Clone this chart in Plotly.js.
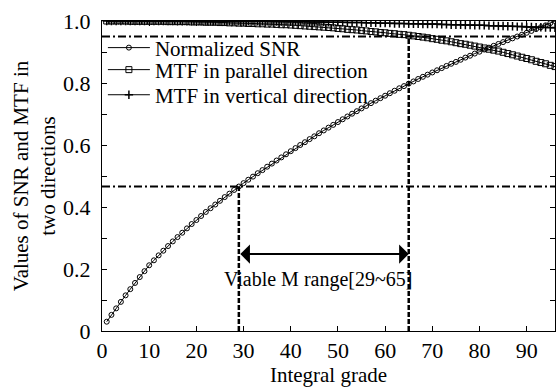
<!DOCTYPE html>
<html>
<head>
<meta charset="utf-8">
<script src="https://cdn.plot.ly/plotly-3.0.1.min.js"></script>
<style>html,body{margin:0;padding:0;background:#fff;}#chart{width:556px;height:387px;}</style>
</head>
<body>
<div id="chart"></div>
<script>
const grades = [1,2,3,4,5,6,7,8,9,10,11,12,13,14,15,16,17,18,19,20,21,22,23,24,25,26,27,28,29,30,31,32,33,34,35,36,37,38,39,40,41,42,43,44,45,46,47,48,49,50,51,52,53,54,55,56,57,58,59,60,61,62,63,64,65,66,67,68,69,70,71,72,73,74,75,76,77,78,79,80,81,82,83,84,85,86,87,88,89,90,91,92,93,94,95,96];
const snr = [0.030,0.052,0.073,0.094,0.115,0.135,0.155,0.174,0.193,0.212,
  0.228,0.244,0.259,0.274,0.289,0.303,0.317,0.331,0.345,0.358,
  0.371,0.384,0.396,0.408,0.420,0.432,0.443,0.455,0.466,0.477,
  0.488,0.498,0.509,0.519,0.530,0.540,0.550,0.560,0.570,0.580,
  0.590,0.600,0.609,0.619,0.628,0.638,0.647,0.656,0.665,0.674,
  0.683,0.692,0.701,0.709,0.718,0.726,0.735,0.743,0.751,0.759,
  0.767,0.775,0.783,0.790,0.798,0.805,0.813,0.820,0.827,0.834,
  0.841,0.848,0.855,0.862,0.868,0.875,0.882,0.888,0.895,0.901,
  0.908,0.914,0.920,0.926,0.932,0.938,0.944,0.950,0.956,0.962,
  0.968,0.974,0.980,0.986,0.993,1.000];
const mtfParallel = [1.000,1.000,1.000,1.000,1.000,0.999,0.999,0.999,0.999,0.999,
  0.999,0.999,0.999,0.998,0.998,0.998,0.998,0.998,0.997,0.997,
  0.997,0.996,0.996,0.996,0.995,0.995,0.994,0.994,0.993,0.993,
  0.992,0.992,0.991,0.991,0.990,0.990,0.989,0.988,0.988,0.987,
  0.986,0.985,0.984,0.983,0.982,0.981,0.980,0.979,0.978,0.976,
  0.975,0.973,0.972,0.971,0.969,0.968,0.966,0.965,0.963,0.962,
  0.960,0.959,0.957,0.956,0.954,0.952,0.950,0.948,0.946,0.943,
  0.941,0.938,0.936,0.933,0.930,0.927,0.925,0.922,0.919,0.916,
  0.913,0.909,0.906,0.903,0.899,0.895,0.891,0.887,0.883,0.879,
  0.875,0.870,0.866,0.862,0.857,0.853];
const mtfVertical = [1.000,1.000,1.000,1.000,1.000,1.000,1.000,1.000,1.000,1.000,
  1.000,1.000,1.000,1.000,1.000,0.999,0.999,0.999,0.999,0.999,
  0.999,0.999,0.999,0.999,0.999,0.999,0.999,0.999,0.999,0.999,
  0.999,0.999,0.999,0.999,0.999,0.998,0.998,0.998,0.998,0.998,
  0.998,0.998,0.998,0.997,0.997,0.997,0.997,0.996,0.996,0.996,
  0.996,0.995,0.995,0.995,0.995,0.994,0.994,0.994,0.993,0.993,
  0.993,0.992,0.992,0.992,0.991,0.991,0.991,0.990,0.990,0.990,
  0.990,0.989,0.989,0.988,0.988,0.988,0.987,0.987,0.986,0.986,
  0.986,0.985,0.985,0.984,0.984,0.983,0.983,0.982,0.982,0.981,
  0.981,0.980,0.980,0.979,0.979,0.978];
const seriesNames = ["Normalized SNR","MTF in parallel direction","MTF in vertical direction"];
const xRange = [0, 96];
const rangeM = [29, 65];          // viable M range
const thresholds = [0.466, 0.95];  // SNR threshold, MTF threshold
const arrowLevel = 0.248;
const labelPos = [45.8, 0.165];
const rangeLabel = "Viable M range[" + rangeM[0] + "~" + rangeM[1] + "]";
const xTicks = [0,10,20,30,40,50,60,70,80,90];
const yTickVals = [0,0.2,0.4,0.6,0.8,1.0];
const yTickText = ["0","0.2","0.4","0.6","0.8","1.0"];

const FONT = "Liberation Serif, Times New Roman, serif";
const thin = {color:"black", width:1};
const traces = [
  {x:grades, y:snr, name:seriesNames[0], mode:"lines+markers", line:thin, legend:"legend",
   marker:{symbol:"circle-open", size:5, color:"black", line:{width:1,color:"black"}}},
  {x:grades, y:mtfParallel, name:seriesNames[1], mode:"lines+markers", line:thin, legend:"legend2",
   marker:{symbol:"square-open", size:6, color:"black", line:{width:1,color:"black"}}},
  {x:grades, y:mtfVertical, name:seriesNames[2], mode:"lines+markers", line:thin, legend:"legend3",
   marker:{symbol:"cross-thin", size:6, color:"black", line:{width:1.5,color:"black"}}},
  {x:xRange, y:[thresholds[1],thresholds[1]], mode:"lines", showlegend:false, hoverinfo:"skip",
   line:{color:"black", width:2, dash:"8px,3px,2px,3px"}},
  {x:xRange, y:[thresholds[0],thresholds[0]], mode:"lines", showlegend:false, hoverinfo:"skip",
   line:{color:"black", width:2, dash:"8px,3px,2px,3px"}},
  {x:[rangeM[0],rangeM[0]], y:[0,thresholds[0]], mode:"lines", showlegend:false, hoverinfo:"skip",
   line:{color:"black", width:2.5, dash:"5px,2px"}},
  {x:[rangeM[1],rangeM[1]], y:[0,thresholds[1]], mode:"lines", showlegend:false, hoverinfo:"skip",
   line:{color:"black", width:2.5, dash:"5px,2px"}}
];

function leg(y){
  return {x:0.002, y:y, xanchor:"left", yanchor:"middle", bgcolor:"rgba(0,0,0,0)",
          font:{family:FONT, size:21, color:"black"}, itemwidth:42};
}

const layout = {
  width:556, height:387,
  margin:{l:102, r:1, t:21, b:56},
  paper_bgcolor:"white", plot_bgcolor:"white",
  font:{family:FONT, size:20, color:"black"},
  showlegend:true,
  legend:leg(0.913), legend2:leg(0.842), legend3:leg(0.761),
  xaxis:{range:xRange, tickvals:xTicks, ticks:"inside", ticklen:5, tickwidth:1, tickcolor:"black",
         showline:true, linecolor:"black", linewidth:1, mirror:"ticks", showgrid:false, zeroline:false,
         tickfont:{family:FONT, size:22},
         title:{text:"Integral grade", font:{family:FONT, size:21}, standoff:8}},
  yaxis:{range:[0,1], tickvals:yTickVals, ticktext:yTickText, ticks:"inside", ticklen:5, tickwidth:1, tickcolor:"black",
         showline:true, linecolor:"black", linewidth:1, mirror:"ticks", showgrid:false, zeroline:false,
         tickfont:{family:FONT, size:22}, ticklabelstandoff:6,
         minor:{dtick:0.1, tick0:0, ticks:"inside", ticklen:5, tickcolor:"black", tickwidth:1, showgrid:false},
         title:{text:"Values of SNR and MTF in<br>two directions", font:{family:FONT, size:21}, standoff:1}},
  annotations:[
    {x:rangeM[1], y:arrowLevel, ax:rangeM[0], ay:arrowLevel, xref:"x", yref:"y", axref:"x", ayref:"y",
     text:"", showarrow:true, arrowhead:1, startarrowhead:1, arrowside:"end+start", arrowsize:1.6, arrowwidth:2, arrowcolor:"black"},
    {x:labelPos[0], y:labelPos[1], xref:"x", yref:"y", text:rangeLabel, showarrow:false,
     font:{family:FONT, size:20, color:"black"}}
  ]
};
Plotly.newPlot("chart", traces, layout, {displayModeBar:false, staticPlot:true});
</script>
</body>
</html>
